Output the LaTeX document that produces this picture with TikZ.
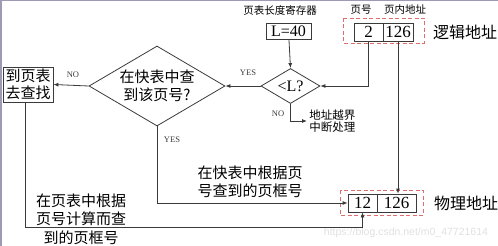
\documentclass[tikz,border=0pt]{standalone}
\usepackage{fontspec}
\setmainfont{Liberation Serif}
\setsansfont{Liberation Sans}
\newfontfamily\cjk{Noto Sans CJK SC}
\usepackage{tikz}
\usetikzlibrary{arrows.meta, shapes.geometric}
\definecolor{ink}{HTML}{3A3A3A}
\definecolor{grpred}{HTML}{DE6E6E}
\definecolor{frame}{HTML}{9C9AB4}

\begin{document}
\begin{tikzpicture}[x=1pt, y=-1pt, >={Latex[length=5pt,width=4pt]},
  line width=0.8pt,
  box/.style={draw=ink, inner sep=0pt},
  cell/.style={draw=ink, inner sep=0pt, minimum height=18pt, font=\fontsize{17}{17}\selectfont},
  dia/.style={diamond, draw=ink, inner sep=0pt, aspect=1.7},
  grp/.style={draw=grpred, line width=0.7pt, dash pattern=on 4pt off 2.5pt},
  lbl/.style={font=\fontsize{10.5}{12}\selectfont\cjk},
  mid/.style={font=\fontsize{15}{17.5}\selectfont\cjk, inner sep=0pt},
  big/.style={font=\fontsize{16}{18}\selectfont\cjk},
  tag/.style={font=\fontsize{8.5}{9}\selectfont, text=ink},
  conn/.style={draw=ink, ->}]
  \useasboundingbox (0,0) rectangle (498,246);
  \draw[frame, line width=1.5pt] (1,246) -- (1,0.75) -- (498,0.75);

  % logical address and length register
  \node[lbl] (reglbl) at (280,10) {页表长度寄存器};
  \node[box, minimum width=45pt, minimum height=16pt, font=\fontsize{16}{16}\selectfont] (lreg) at (288.5,31) {L=40};
  \node[lbl] (pnlbl) at (361,10) {页号};
  \node[lbl] (offlbl) at (405,10) {页内地址};
  \node[cell, minimum width=29pt] (pn) at (368.5,32) {2};
  \node[cell, minimum width=30pt] (off) at (398,32) {126};
  \draw[grp] (343,18) rectangle (424,43);
  \node[big] (logic) at (465,32) {逻辑地址};

  % decisions
  \node[dia, minimum width=59pt, minimum height=35pt, font=\fontsize{16}{16}\selectfont] (cmp) at (290.5,86) {<L?};
  \node[dia, mid, minimum width=136pt, minimum height=80pt, align=center] (tlb) at (157,86) {在快表中查\\到该页号?};
  \node[box, mid, minimum width=50pt, minimum height=35pt, align=center] (walk) at (28,84.5) {到页表\\去查找};
  \node[anchor=west, inner sep=2pt, align=left, font=\fontsize{11.5}{12.5}\selectfont\cjk] (ovf) at (307,121) {地址越界\\中断处理};

  % physical address
  \node[cell, minimum width=29pt] (pf) at (362.5,203) {12};
  \node[cell, minimum width=39pt] (poff) at (396.5,203) {126};
  \draw[grp] (340,190) rectangle (423,215);
  \node[big] (phys) at (466,203) {物理地址};

  % notes and tags
  \node[mid, align=left] (hitnote) at (250,182) {在快表中根据页\\号查到的页框号};
  \node[mid, align=center, font=\fontsize{15}{18.5}\selectfont\cjk] (missnote) at (81,219) {在页表中根据\\页号计算而查\\到的页框号};
  \node[tag] (yes1) at (248,73) {YES};
  \node[tag] (no1) at (73,75) {NO};
  \node[tag] (yes2) at (172,140) {YES};
  \node[tag] (no2) at (278,114) {NO};
  \node[text=black!12, font=\fontsize{10.5}{12}\selectfont\sffamily] (mark) at (406,233) {https://blog.csdn.net/m0\_47721614};

  % connectors
  \coordinate (low) at (0,227);
  \draw[conn] (lreg) -- (cmp.north);
  \draw[conn] (pn.south) |- (cmp.east);
  \draw[conn] (cmp.west) -- (tlb.east);
  \draw[conn] (tlb.west) -- (walk.east);
  \draw[conn] (cmp.south) |- (ovf.west);
  \draw[conn] (tlb.south) |- (pf.west);
  \draw[conn] ([xshift=-3pt]walk.south) -- ([xshift=-3pt]walk.south |- low) -| (pf.south);
  \draw[conn] (off.south) -- (off.south |- poff.north);
\end{tikzpicture}
\end{document}
